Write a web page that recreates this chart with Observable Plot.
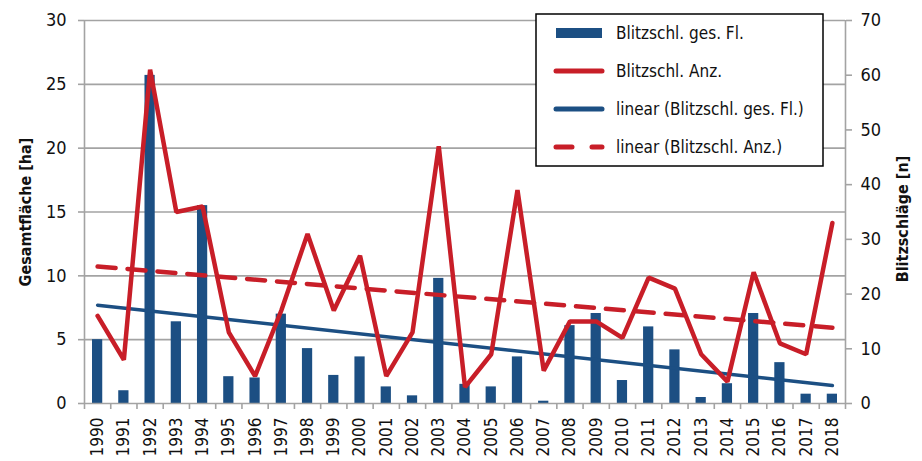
<!DOCTYPE html>
<html><head><meta charset="utf-8">
<script src="https://cdn.jsdelivr.net/npm/d3@7"></script>
<script src="https://cdn.jsdelivr.net/npm/@observablehq/plot@0.6"></script>
<style>
body{margin:0;background:#fff;}
svg{font-family:"Liberation Sans Narrow","DejaVu Sans Condensed","Roboto Condensed",sans-serif;}
</style>
</head><body><div id="chart"></div>
<script>
const years = [1990,1991,1992,1993,1994,1995,1996,1997,1998,1999,2000,2001,2002,2003,2004,2005,2006,2007,2008,2009,2010,2011,2012,2013,2014,2015,2016,2017,2018];
const area = [5.0,1.0,25.7,6.4,15.5,2.1,2.0,7.0,4.3,2.2,3.65,1.3,0.6,9.8,1.5,1.3,3.65,0.18,6.1,7.05,1.8,6.0,4.2,0.47,1.55,7.05,3.2,0.73,0.73];
const strikes = [16,8,61,35,36,13,5,17,31,17,27,5,13,47,3,9,39,6,15,15,12,23,21,9,4,24,11,9,33];
const leftTicks = [0,5,10,15,20,25,30];
const rightTicks = [0,10,20,30,40,50,60,70];
const legendLabels = ["Blitzschl. ges. Fl.","Blitzschl. Anz.","linear (Blitzschl. ges. Fl.)","linear (Blitzschl. Anz.)"];
const leftTitle = "Gesamtfläche [ha]";
const rightTitle = "Blitzschläge [n]";

const BLUE = "#1c4f83", RED = "#c81e28", GRID = "#a3a3a3";
const FONT = '"Liberation Sans Narrow","DejaVu Sans Condensed",sans-serif';
const k = leftTicks[leftTicks.length-1] / rightTicks[rightTicks.length-1];
const data = years.map((y,i)=>({year:y, area:area[i], n:strikes[i]}));
const bounds = [years[0]-0.5, ...years.map(y=>y+0.5)];

const chart = Plot.plot({
  width: 922, height: 461,
  marginLeft: 84, marginRight: 77, marginTop: 20, marginBottom: 58,
  style: {fontSize: "18px", fontFamily: FONT, color: "#111"},
  x: {type: "linear", domain: [years[0]-0.5, years[years.length-1]+0.5]},
  y: {domain: [0, 30]},
  marks: [
    Plot.gridY(leftTicks.slice(1), {stroke: GRID, strokeOpacity: 1, strokeWidth: 1.6}),
    Plot.rectY(data, {x1: d=>d.year-0.5, x2: d=>d.year+0.5, y: "area", fill: BLUE, insetLeft: 8, insetRight: 8}),
    Plot.linearRegressionY(data, {x: "year", y: "area", stroke: BLUE, strokeWidth: 3.5, ci: 0}),
    Plot.lineY(data, {x: "year", y: d=>d.n*k, stroke: RED, strokeWidth: 4.5, strokeLinejoin: "miter"}),
    Plot.linearRegressionY(data, {x: "year", y: d=>d.n*k, stroke: RED, strokeWidth: 4.5, strokeDasharray: "18,12", ci: 0}),
    Plot.ruleX([years[0]-0.5, years[years.length-1]+0.5], {stroke: GRID, strokeWidth: 1.6}),
    Plot.ruleY([0], {stroke: GRID, strokeWidth: 1.6}),
    Plot.axisY(leftTicks, {anchor: "left", tickSize: 6, tickPadding: 12, stroke: GRID, strokeWidth: 1.6, label: null, fill: "#111"}),
    Plot.axisY(rightTicks.map(v=>v*k), {anchor: "right", tickSize: 6, tickPadding: 9, stroke: GRID, strokeWidth: 1.6, label: null, tickFormat: v=>String(Math.round(v/k)), fill: "#111"}),
    Plot.axisX(bounds, {anchor: "bottom", tickSize: 6, tickFormat: ()=>"", stroke: GRID, strokeWidth: 1.6, label: null}),
    Plot.axisX(years, {anchor: "bottom", tickSize: 0, tickPadding: 14, tickRotate: -90, tickFormat: d=>String(d), label: null, fontSize: 17, fill: "#111"}),
    Plot.text([leftTitle], {frameAnchor: "left", textAnchor: "middle", rotate: -90, dx: -59, fontWeight: "bold", fontSize: 16, fill: "#111"}),
    Plot.text([rightTitle], {frameAnchor: "right", textAnchor: "middle", rotate: -90, dx: 57, dy: 7, fontWeight: "bold", fontSize: 16, fill: "#111"})
  ]
});

const svg = d3.select(chart);
const lg = svg.append("g").attr("text-anchor", "start").attr("font-family", FONT);
lg.append("rect").attr("x", 536).attr("y", 14).attr("width", 287).attr("height", 152)
  .attr("fill", "#fff").attr("stroke", "#000").attr("stroke-width", 1.5);
const rows = [
  {type: "bar", color: BLUE},
  {type: "line", color: RED},
  {type: "line", color: BLUE},
  {type: "dash", color: RED}
];
rows.forEach((r, i) => {
  const cy = 33 + i*38;
  if (r.type === "bar") {
    lg.append("rect").attr("x", 556).attr("y", cy-5).attr("width", 46).attr("height", 10).attr("fill", r.color);
  } else {
    lg.append("line").attr("x1", 556).attr("x2", 602).attr("y1", cy).attr("y2", cy)
      .attr("stroke", r.color).attr("stroke-width", 5).attr("stroke-linecap", "round")
      .attr("stroke-dasharray", r.type === "dash" ? "16,20" : null);
  }
  lg.append("text").attr("x", 616).attr("y", cy).attr("dy", "0.35em")
    .attr("font-size", 17).attr("fill", "#111").text(legendLabels[i]);
});

document.getElementById("chart").appendChild(chart);
</script>
</body></html>
